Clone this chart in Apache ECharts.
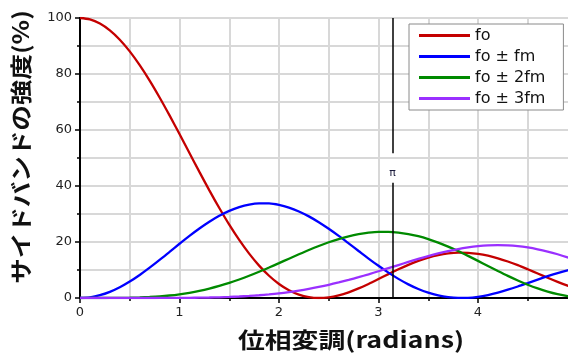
<!DOCTYPE html>
<html>
<head>
<meta charset="utf-8">
<script src="https://cdn.jsdelivr.net/npm/echarts@6/dist/echarts.min.js"></script>
<style>
  html, body { margin: 0; padding: 0; overflow: hidden; background: #fff; }
  #chart { width: 600px; height: 354px; }
</style>
</head>
<body>
<div id="chart"></div>
<script>
// Phase modulation index (radians)
const phase = [0, 0.1, 0.2, 0.3, 0.4, 0.5, 0.6, 0.7, 0.8, 0.9,
  1.0, 1.1, 1.2, 1.3, 1.4, 1.5, 1.6, 1.7, 1.8, 1.9,
  2.0, 2.1, 2.2, 2.3, 2.4, 2.5, 2.6, 2.7, 2.8, 2.9,
  3.0, 3.1, 3.2, 3.3, 3.4, 3.5, 3.6, 3.7, 3.8, 3.9,
  4.0, 4.1, 4.2, 4.3, 4.4, 4.5, 4.6, 4.7, 4.8, 4.9, 5.0];

// Relative intensity (%) of the carrier and the sidebands
const carrier = [100, 99.50, 98.01, 95.57, 92.24, 88.08, 83.17, 77.65, 71.62, 65.21,
  58.55, 51.78, 45.04, 38.45, 32.14, 26.19, 20.74, 15.84, 11.56, 7.94,
  5.01, 2.78, 1.22, 0.31, 0.00, 0.23, 0.94, 2.03, 3.42, 5.03,
  6.77, 8.53, 10.25, 11.85, 13.27, 14.45, 15.35, 15.94, 16.21, 16.14,
  15.77, 15.11, 14.18, 13.03, 11.72, 10.27, 8.77, 7.25, 5.78, 4.40, 3.15];
const side1 = [0, 0.25, 0.99, 2.20, 3.84, 5.87, 8.22, 10.82, 13.60, 16.48,
  19.37, 22.18, 24.83, 27.25, 29.37, 31.13, 32.48, 33.39, 33.81, 33.78,
  33.26, 32.30, 30.91, 29.15, 27.06, 24.71, 22.17, 19.50, 16.79, 14.09,
  11.50, 9.05, 6.83, 4.87, 3.21, 1.89, 0.91, 0.29, 0.02, 0.07,
  0.44, 1.07, 1.92, 2.96, 4.11, 5.34, 6.59, 7.79, 8.91, 9.90, 10.73];
const side2 = [0, 0.00, 0.00, 0.01, 0.04, 0.09, 0.19, 0.35, 0.57, 0.89,
  1.32, 1.87, 2.54, 3.35, 4.30, 5.39, 6.61, 7.94, 9.37, 10.89,
  12.45, 14.04, 15.61, 17.14, 18.58, 19.90, 21.06, 22.04, 22.81, 23.35,
  23.64, 23.64, 23.38, 22.85, 22.06, 21.03, 19.79, 18.34, 16.76, 15.04,
  13.26, 11.45, 9.65, 7.90, 6.26, 4.74, 3.41, 2.27, 1.35, 0.66, 0.22];
const side3 = [0, 0, 0, 0, 0, 0, 0, 0, 0.01, 0.02,
  0.04, 0.07, 0.11, 0.17, 0.25, 0.37, 0.53, 0.73, 0.98, 1.29,
  1.66, 2.11, 2.63, 3.24, 3.93, 4.69, 5.54, 6.45, 7.43, 8.47,
  9.56, 10.66, 11.77, 12.87, 13.94, 14.96, 15.90, 16.75, 17.48, 18.06,
  18.50, 18.78, 18.87, 18.78, 18.51, 18.04, 17.39, 16.58, 15.62, 14.52, 13.31];

const seriesNames = ['fo', 'fo ± fm', 'fo ± 2fm', 'fo ± 3fm'];
const seriesValues = [carrier, side1, side2, side3];
const seriesColors = ['#c40000', '#0000ff', '#008a00', '#9a30ff'];

// Reference marker at phase = pi, broken around its label
const piPhase = 3.14159;
const piLabel = 'π';
const piLabelLevel = 44.6;
const piGap = [51.7, 41.2];

const xTitle = '位相変調(radians)';
const yTitle = 'サイドバンドの強度(%)';

const chart = echarts.init(document.getElementById('chart'), null, { renderer: 'canvas' });

const tickFont = { color: '#222', fontSize: 13, fontFamily: 'DejaVu Sans' };
const gridLine = { show: true, lineStyle: { color: '#d8d8d8', width: 2 } };

const series = seriesNames.map((name, i) => {
  const s = {
    name: name,
    type: 'line',
    data: phase.map((p, k) => [p, seriesValues[i][k]]),
    showSymbol: false,
    symbol: 'none',
    smooth: 0.3,
    lineStyle: { color: seriesColors[i], width: 2.3 },
    itemStyle: { color: seriesColors[i] },
    z: 3
  };
  if (i === 0) {
    s.markLine = {
      silent: true,
      symbol: ['none', 'none'],
      label: { show: false },
      lineStyle: { color: '#000', width: 1.5, type: 'solid' },
      data: [
        [{ coord: [piPhase, 100] }, { coord: [piPhase, piGap[0]] }],
        [{ coord: [piPhase, piGap[1]] }, { coord: [piPhase, 0] }]
      ]
    };
  }
  return s;
});

const titleGraphics = [
  {
    id: 'xTitle', type: 'text', x: 351, y: 340, scaleX: 1.22,
    style: {
      text: xTitle, font: 'bold 22px "Noto Sans CJK JP"', fill: '#111',
      align: 'center', verticalAlign: 'middle', textAlign: 'center', textVerticalAlign: 'middle'
    }
  },
  {
    id: 'yTitle', type: 'text', x: 21, y: 147, rotation: Math.PI / 2, scaleX: 1.16,
    style: {
      text: yTitle, font: 'bold 22px "Noto Sans CJK JP"', fill: '#111',
      align: 'center', verticalAlign: 'middle', textAlign: 'center', textVerticalAlign: 'middle'
    }
  }
];

chart.setOption({
  animation: false,
  backgroundColor: '#fff',
  grid: {
    left: 80, top: 18, width: 497.5, height: 280,
    show: true, borderColor: '#000', borderWidth: 2, backgroundColor: 'transparent'
  },
  legend: {
    data: seriesNames,
    orient: 'vertical',
    left: 409, top: 24,
    padding: [1, 18, 1, 10],
    backgroundColor: '#fff',
    borderColor: '#8a8a8a', borderWidth: 1, borderRadius: 0,
    icon: 'rect', itemWidth: 51, itemHeight: 3, itemGap: 0, itemTextGap: 6,
    textStyle: { color: '#111', fontSize: 16, lineHeight: 21, fontFamily: 'DejaVu Sans' }
  },
  xAxis: {
    type: 'value', min: 0, max: 5, interval: 1,
    axisLine: { show: true, onZero: false, lineStyle: { color: '#000', width: 2 } },
    axisTick: { show: true, length: 5, lineStyle: { color: '#000', width: 1.5 } },
    minorTick: { show: true, splitNumber: 2, length: 3, lineStyle: { color: '#000', width: 1.5 } },
    splitLine: gridLine,
    minorSplitLine: gridLine,
    axisLabel: Object.assign({ margin: 8 }, tickFont)
  },
  yAxis: {
    type: 'value', min: 0, max: 100, interval: 20,
    axisLine: { show: true, lineStyle: { color: '#000', width: 2 } },
    axisTick: { show: true, length: 5, lineStyle: { color: '#000', width: 1.5 } },
    minorTick: { show: true, splitNumber: 2, length: 3, lineStyle: { color: '#000', width: 1.5 } },
    splitLine: gridLine,
    minorSplitLine: gridLine,
    axisLabel: Object.assign({ margin: 8 }, tickFont)
  },
  graphic: titleGraphics,
  series: series
});

// Place the π caption in the break of the marker line, through the axis scales
const piPos = chart.convertToPixel({ gridIndex: 0 }, [piPhase, piLabelLevel]);
chart.setOption({
  graphic: titleGraphics.concat([{
    id: 'piCaption', type: 'text', x: piPos[0], y: piPos[1], z: 10,
    style: {
      text: piLabel, font: '11px "DejaVu Sans"', fill: '#1a1a3a',
      align: 'center', verticalAlign: 'middle', textAlign: 'center', textVerticalAlign: 'middle'
    }
  }])
});
</script>
</body>
</html>
